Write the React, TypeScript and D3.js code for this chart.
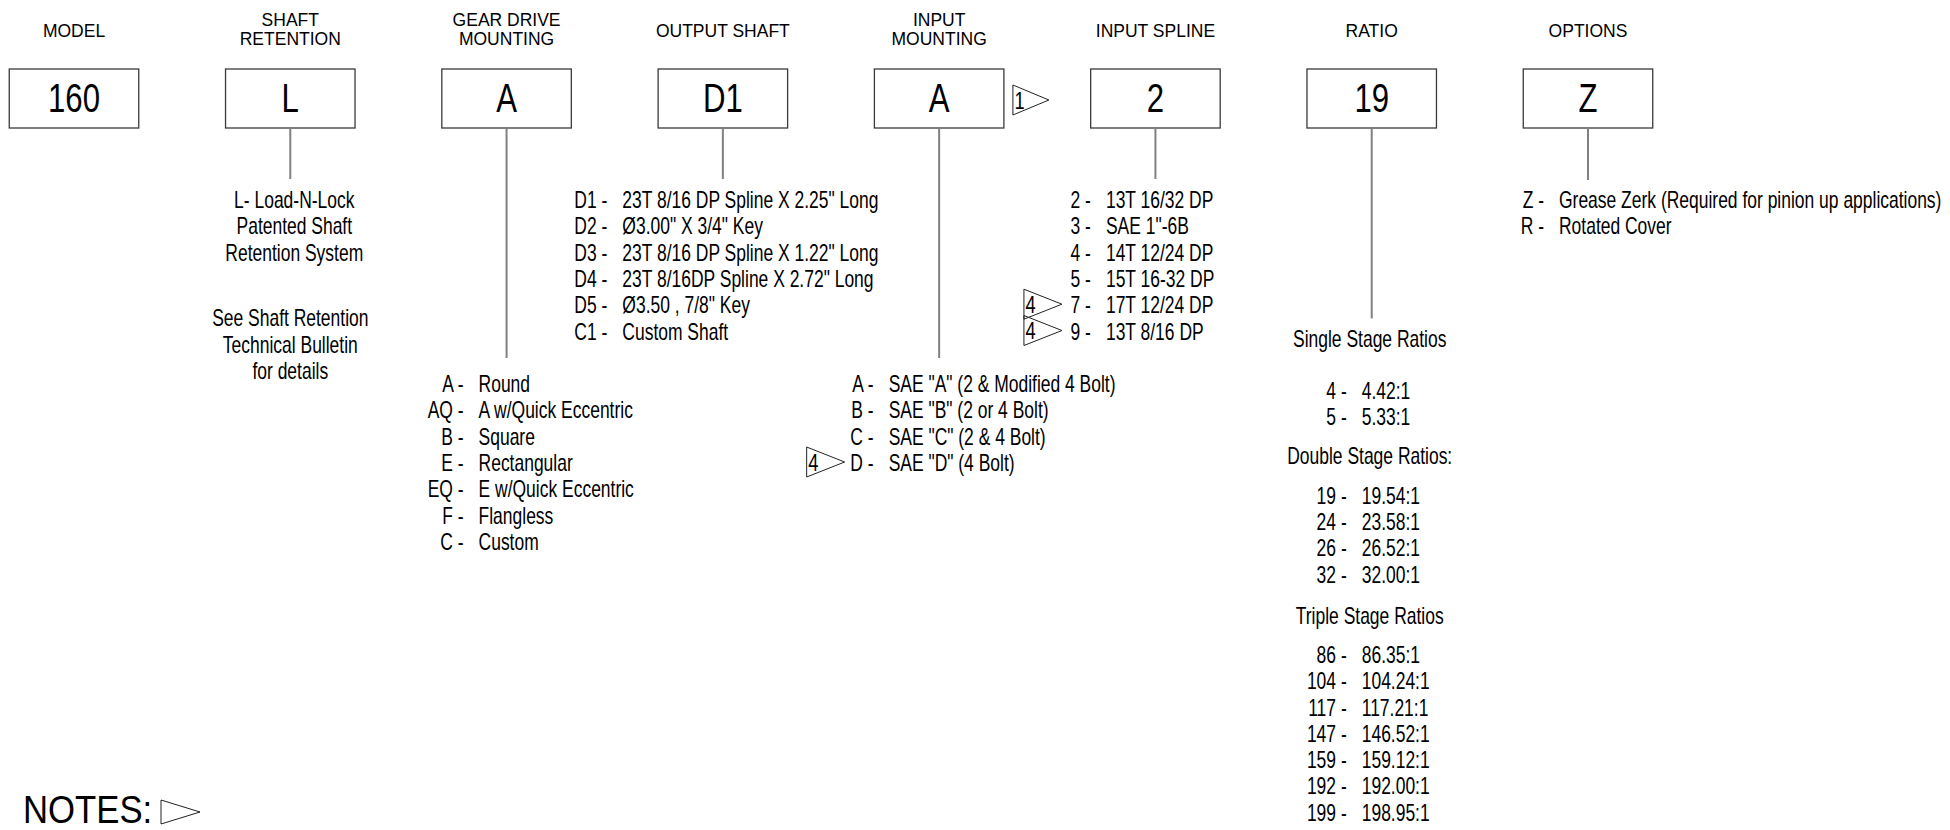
import React from "react";
import * as d3 from "d3";

const WIDTH = 1950;
const HEIGHT = 830;

// column headers and the selected code shown in each box
const HEADERS: string[][] = [
  ["MODEL"],
  ["SHAFT", "RETENTION"],
  ["GEAR DRIVE", "MOUNTING"],
  ["OUTPUT SHAFT"],
  ["INPUT", "MOUNTING"],
  ["INPUT SPLINE"],
  ["RATIO"],
  ["OPTIONS"],
];
const SELECTED = ["160", "L", "A", "D1", "A", "2", "19", "Z"];

const RETENTION_LINES = ["L- Load-N-Lock", "Patented Shaft", "Retention System"];
const RETENTION_NOTE = ["See Shaft Retention", "Technical Bulletin", "for details"];

const SHAFT_CODES = ["D1", "D2", "D3", "D4", "D5", "C1"];
const SHAFT_DESC = [
  '23T 8/16 DP Spline X 2.25" Long',
  'Ø3.00" X 3/4" Key',
  '23T 8/16 DP Spline X 1.22" Long',
  '23T 8/16DP Spline X 2.72" Long',
  'Ø3.50 , 7/8" Key',
  "Custom Shaft",
];

const MOUNT_CODES = ["A", "AQ", "B", "E", "EQ", "F", "C"];
const MOUNT_DESC = [
  "Round",
  "A w/Quick Eccentric",
  "Square",
  "Rectangular",
  "E w/Quick Eccentric",
  "Flangless",
  "Custom",
];

const INPUT_CODES = ["A", "B", "C", "D"];
const INPUT_DESC = [
  'SAE "A" (2 & Modified 4 Bolt)',
  'SAE "B" (2 or 4 Bolt)',
  'SAE "C" (2 & 4 Bolt)',
  'SAE "D" (4 Bolt)',
];
const INPUT_NOTES = ["", "", "", "4"];

const SPLINE_CODES = ["2", "3", "4", "5", "7", "9"];
const SPLINE_DESC = [
  "13T 16/32 DP",
  'SAE 1"-6B',
  "14T 12/24 DP",
  "15T 16-32 DP",
  "17T 12/24 DP",
  "13T 8/16 DP",
];
const SPLINE_NOTES = ["", "", "", "", "4", "4"];

const RATIO_GROUPS = ["Single Stage Ratios", "Double Stage Ratios:", "Triple Stage Ratios"];
const RATIO_CODES = [
  ["4", "5"],
  ["19", "24", "26", "32"],
  ["86", "104", "117", "147", "159", "192", "199"],
];
const RATIO_VALUES = [
  ["4.42:1", "5.33:1"],
  ["19.54:1", "23.58:1", "26.52:1", "32.00:1"],
  ["86.35:1", "104.24:1", "117.21:1", "146.52:1", "159.12:1", "192.00:1", "198.95:1"],
];

const OPTION_CODES = ["Z", "R"];
const OPTION_DESC = ["Grease Zerk (Required for pinion up applications)", "Rotated Cover"];

// layout
const col = d3.scaleLinear().domain([0, 7]).range([74, 1588]);
const row = d3.scaleLinear().domain([0, 1]).range([208, 234.3]);
const BOX_W = 129.5;
const BOX_TOP = 69;
const BOX_BOTTOM = 128;
const GAP = 15; // dash end -> description
const SX = 0.76; // horizontal squeeze for the narrow face
const FONT = "'Liberation Sans', Arial, sans-serif";

function Narrow({
  x,
  y,
  size = 23,
  anchor = "start",
  children,
}: {
  x: number;
  y: number;
  size?: number;
  anchor?: "start" | "middle" | "end";
  children: React.ReactNode;
}) {
  return (
    <text
      transform={`translate(${x},${y}) scale(${SX},1)`}
      textAnchor={anchor}
      fontSize={size}
      fill="#000"
    >
      {children}
    </text>
  );
}

// note flag: a triangle with a flat left side, optional number inside
function Flag({ x, cy, w = 38, h = 30, label }: { x: number; cy: number; w?: number; h?: number; label?: string }) {
  const p = d3.path();
  p.moveTo(x, cy - h / 2);
  p.lineTo(x, cy + h / 2);
  p.lineTo(x + w, cy);
  p.closePath();
  return (
    <g>
      <path d={p.toString()} fill="none" stroke="#222" strokeWidth={1} />
      {label && (
        <Narrow x={x + 1.5} y={cy + 8.5} size={24}>
          {label}
        </Narrow>
      )}
    </g>
  );
}

function CodeList({
  colIndex,
  dashOffset,
  startRow,
  codes,
  desc,
  notes,
}: {
  colIndex: number;
  dashOffset: number;
  startRow: number;
  codes: string[];
  desc: string[];
  notes?: string[];
}) {
  const dashEnd = col(colIndex) + dashOffset;
  return (
    <g>
      {codes.map((c, i) => {
        const y = row(startRow + i);
        const note = notes?.[i];
        return (
          <g key={c + i}>
            {note && <Flag x={dashEnd - 67} cy={y - 9} label={note} />}
            <Narrow x={dashEnd} y={y} anchor="end">
              {c + " -"}
            </Narrow>
            <Narrow x={dashEnd + GAP} y={y}>
              {desc[i]}
            </Narrow>
          </g>
        );
      })}
    </g>
  );
}

export default function App() {
  // ratio column rows: heading, then its items (row units)
  const groupStart = [5.3, 9.75, 15.8];
  const headingGap = [1.95, 1.5, 1.5];
  const ratioRows: { y: number; heading?: string; code?: string; value?: string }[] = [];
  RATIO_GROUPS.forEach((g, gi) => {
    ratioRows.push({ y: row(groupStart[gi]), heading: g });
    RATIO_CODES[gi].forEach((c, i) => {
      ratioRows.push({ y: row(groupStart[gi] + headingGap[gi] + i), code: c, value: RATIO_VALUES[gi][i] });
    });
  });

  const lineEnds = [null, 179, 358, 179, 358, 179, row(groupStart[0]) - 29, 180];
  const ratioDash = col(6) - 25;

  return (
    <div>
      <style>{"body{margin:0;background:#fff}"}</style>
      <svg width={WIDTH} height={HEIGHT} viewBox={`0 0 ${WIDTH} ${HEIGHT}`} fontFamily={FONT}>
        <rect width={WIDTH} height={HEIGHT} fill="#fff" />

        {/* headers */}
        {HEADERS.map((lines, i) => (
          <text key={i} x={col(i)} textAnchor="middle" fontSize={17.5} fill="#000">
            {lines.length === 1 ? (
              <tspan x={col(i)} y={37}>
                {lines[0]}
              </tspan>
            ) : (
              lines.map((l, j) => (
                <tspan key={j} x={col(i)} y={26 + j * 19}>
                  {l}
                </tspan>
              ))
            )}
          </text>
        ))}

        {/* code boxes */}
        {SELECTED.map((c, i) => (
          <g key={i}>
            <rect
              x={col(i) - BOX_W / 2}
              y={BOX_TOP}
              width={BOX_W}
              height={BOX_BOTTOM - BOX_TOP}
              fill="none"
              stroke="#3a3a3a"
              strokeWidth={1.3}
            />
            <Narrow x={col(i)} y={112} size={41} anchor="middle">
              {c}
            </Narrow>
          </g>
        ))}

        {/* connector lines */}
        {lineEnds.map((end, i) =>
          end == null ? null : (
            <line key={i} x1={col(i)} x2={col(i)} y1={BOX_BOTTOM} y2={end} stroke="#808080" strokeWidth={2} />
          )
        )}

        {/* note 1 flag after input mounting box */}
        <Flag x={col(4) + BOX_W / 2 + 9} cy={100} w={36} h={30} label="1" />

        {/* shaft retention */}
        {RETENTION_LINES.map((l, i) => (
          <Narrow key={l} x={col(1) + 4} y={row(i)} anchor="middle">
            {l}
          </Narrow>
        ))}
        {RETENTION_NOTE.map((l, i) => (
          <Narrow key={l} x={col(1)} y={row(4.5 + i)} anchor="middle">
            {l}
          </Narrow>
        ))}

        <CodeList colIndex={2} dashOffset={-43} startRow={7} codes={MOUNT_CODES} desc={MOUNT_DESC} />
        <CodeList colIndex={3} dashOffset={-115.5} startRow={0} codes={SHAFT_CODES} desc={SHAFT_DESC} />
        <CodeList
          colIndex={4}
          dashOffset={-65.5}
          startRow={7}
          codes={INPUT_CODES}
          desc={INPUT_DESC}
          notes={INPUT_NOTES}
        />
        <CodeList
          colIndex={5}
          dashOffset={-64.5}
          startRow={0}
          codes={SPLINE_CODES}
          desc={SPLINE_DESC}
          notes={SPLINE_NOTES}
        />
        <CodeList colIndex={7} dashOffset={-44} startRow={0} codes={OPTION_CODES} desc={OPTION_DESC} />

        {/* ratios */}
        {ratioRows.map((d, i) =>
          d.heading ? (
            <Narrow key={i} x={col(6) - 2} y={d.y} anchor="middle">
              {d.heading}
            </Narrow>
          ) : (
            <g key={i}>
              <Narrow x={ratioDash} y={d.y} anchor="end">
                {d.code + " -"}
              </Narrow>
              <Narrow x={ratioDash + GAP} y={d.y}>
                {d.value}
              </Narrow>
            </g>
          )
        )}

        {/* notes */}
        <g transform="translate(23,823) scale(0.89,1)">
          <text fontSize={39} fill="#000">
            NOTES:
          </text>
        </g>
        <Flag x={161} cy={812} w={39} h={24} />
      </svg>
    </div>
  );
}
